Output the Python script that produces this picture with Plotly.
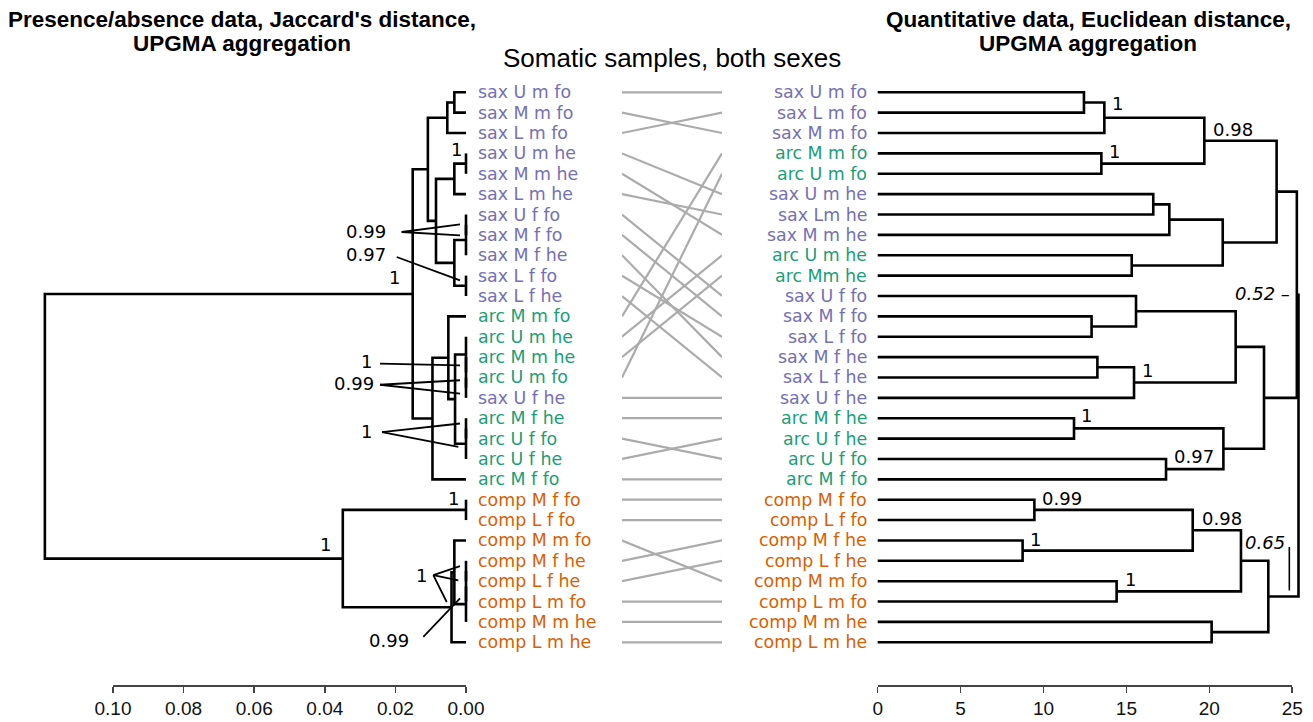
import plotly.graph_objects as go

# ---------------- data ----------------
LEFT_LABELS = ["sax U m fo", "sax M m fo", "sax L m fo", "sax U m he", "sax M m he", "sax L m he",
               "sax U f fo", "sax M f fo", "sax M f he", "sax L f fo", "sax L f he",
               "arc M m fo", "arc U m he", "arc M m he", "arc U m fo", "sax U f he",
               "arc M f he", "arc U f fo", "arc U f he", "arc M f fo",
               "comp M f fo", "comp L f fo", "comp M m fo", "comp M f he", "comp L f he",
               "comp L m fo", "comp M m he", "comp L m he"]
RIGHT_LABELS = ["sax U m fo", "sax L m fo", "sax M m fo", "arc M m fo", "arc U m fo",
                "sax U m he", "sax Lm he", "sax M m he", "arc U m he", "arc Mm he",
                "sax U f fo", "sax M f fo", "sax L f fo", "sax M f he", "sax L f he", "sax U f he",
                "arc M f he", "arc U f he", "arc U f fo", "arc M f fo",
                "comp M f fo", "comp L f fo", "comp M f he", "comp L f he", "comp M m fo",
                "comp L m fo", "comp M m he", "comp L m he"]

# merges (child a, child b, height); leaves are 0..27, merge k gets id 28+k
LEFT_MERGES = [(0, 1, 0.0033), (28, 2, 0.0053), (3, 4, 0.0), (30, 5, 0.0033),
               (6, 7, 0.0), (32, 8, 0.0), (9, 10, 0.0), (33, 34, 0.0033),
               (31, 35, 0.0085), (29, 36, 0.0108),
               (14, 15, 0.0), (13, 38, 0.0), (12, 39, 0.0), (16, 17, 0.0), (41, 18, 0.0),
               (40, 42, 0.0031), (11, 43, 0.0050), (44, 19, 0.0095), (37, 45, 0.0151),
               (20, 21, 0.0), (23, 24, 0.0), (48, 25, 0.0), (49, 26, 0.0),
               (22, 50, 0.0033), (51, 27, 0.0041), (47, 52, 0.0349), (46, 53, 0.1193)]
RIGHT_MERGES = [(0, 1, 12.44), (28, 2, 13.67), (3, 4, 13.49), (29, 30, 19.70),
                (5, 6, 16.62), (32, 7, 17.59), (8, 9, 15.32), (33, 34, 20.81), (31, 35, 24.06),
                (11, 12, 12.90), (10, 37, 15.58), (13, 14, 13.25), (39, 15, 15.46), (38, 40, 21.59),
                (16, 17, 11.84), (18, 19, 17.39), (42, 43, 20.85), (41, 44, 23.30), (36, 45, 25.28),
                (20, 21, 9.45), (22, 23, 8.74), (47, 48, 19.00), (24, 25, 14.41), (49, 50, 21.91),
                (26, 27, 20.14), (51, 52, 23.56), (46, 53, 25.38)]

LEFT_SUPPORT = [(30, "1"), (32, "0.99"), (34, "0.97"), (46, "1"), (39, "1"), (38, "0.99"),
                (41, "1"), (47, "1"), (53, "1"), (48, "1"), (50, "0.99")]
RIGHT_SUPPORT = [(29, "1"), (30, "1"), (31, "0.98"), (40, "1"), (42, "1"), (43, "0.97"),
                 (47, "0.99"), (48, "1"), (49, "0.98"), (50, "1"), (46, "0.52 –"), (53, "0.65")]

LEFT_TICKS = [0.00, 0.02, 0.04, 0.06, 0.08, 0.10]
RIGHT_TICKS = [0, 5, 10, 15, 20, 25]

LEFT_TITLE = ["Presence/absence data, Jaccard's distance,", "UPGMA aggregation"]
RIGHT_TITLE = ["Quantitative data, Euclidean distance,", "UPGMA aggregation"]
MID_TITLE = "Somatic samples, both sexes"

GROUP_COLORS = {"sax": "#7570b3", "arc": "#1b9e77", "comp": "#d95f02"}

# ---------------- layout / style ----------------
W, H = 1313, 722
Y0, ROW = 92.3, 20.37            # px of first leaf, px per leaf
LZ, LS = 466.0, 3530.0           # left: px of 0, px per unit
RZ, RS = 877.7, 16.58            # right: px of 0, px per unit
MX0, MX1 = 622.0, 722.0          # connector columns
AXIS_Y = 685.0
FONT = "Liberation Sans, Arial, Helvetica, sans-serif"
LABEL_FONT = "DejaVu Sans, Verdana, sans-serif"
LABEL_SIZE = 17.4
SUP_SIZE = 18

LEFT_SUP_POS = [("center", -10, -14, None, []),
                ("right", -79.3, 6.3, (-64.3, 7.3), [(32, -6, -0.4), (33, -6, -4.7)]),
                ("right", -79.3, -31.5, (-69.3, -28.8), [(34, -6, -5.5)]),
                ("right", -12, -16.6, None, []),
                ("right", -92.7, -10.4, (-86, -8.8), [(39, -6, -7.1)]),
                ("right", -91, -4.1, (-86, -2.9), [(38, -6, -7.4), (43, 5, -5.6)]),
                ("right", -92.7, 2.8, (-84, 3.8), [(41, -6, -4.9), (42, -7.7, 3.2)]),
                ("center", -12.3, -11.3, None, []),
                ("right", -11, -14.1, None, []),
                ("right", -37.7, 4.2, (-32.7, 4.2), [(48, -6, -4.8), (49, -7.7, -6), (52, -4.8, -5.3)]),
                ("right", -56, 36.8, (-42.7, 32.8), [(50, -6, -5.6)])]
RIGHT_SUP_POS = [("left", 7, -14, False), ("left", 7, -12, False), ("left", 8, -11, False),
                 ("left", 7, -12, False), ("left", 6, -13, False), ("left", 7, -13, False),
                 ("left", 7, -11, False), ("left", 6, -11, False), ("left", 8, -12, False),
                 ("left", 7, -12, False), ("right", -6, -1, True), ("right", 18, -54, True)]


def tree_nodes(merges, n):
    xs = [0.0] * n
    ys = [float(i) for i in range(n)]
    for a, b, h in merges:
        xs.append(h)
        ys.append((ys[a] + ys[b]) / 2)
    return xs, ys


def tree_segments(merges, n):
    xs, ys = tree_nodes(merges, n)
    sx, sy = [], []
    for a, b, h in merges:
        sx += [xs[a], h, h, xs[b], None]
        sy += [ys[a], ys[a], ys[b], ys[b], None]
    return sx, sy


def norm(s):
    return s.replace(" ", "")


def color_of(s):
    return GROUP_COLORS[s.split(" ")[0]]


def py(i):
    return Y0 + i * ROW


def px_left(v):
    return LZ - v * LS


def px_right(v):
    return RZ + v * RS


def X(p):
    return p / W


def Y(p):
    return 1 - p / H


n = len(LEFT_LABELS)
lx, ly = tree_segments(LEFT_MERGES, n)
rx, ry = tree_segments(RIGHT_MERGES, n)
lnx, lny = tree_nodes(LEFT_MERGES, n)
rnx, rny = tree_nodes(RIGHT_MERGES, n)

right_index = {norm(s): j for j, s in enumerate(RIGHT_LABELS)}
cx, cy = [], []
for i, s in enumerate(LEFT_LABELS):
    j = right_index[norm(s)]
    cx += [0, 1, None]
    cy += [i, j, None]

fig = go.Figure()
line_style = dict(color="black", width=2.6)
fig.add_trace(go.Scatter(x=lx, y=ly, mode="lines", line=line_style, xaxis="x", yaxis="y",
                         hoverinfo="skip", showlegend=False))
fig.add_trace(go.Scatter(x=rx, y=ry, mode="lines", line=line_style, xaxis="x2", yaxis="y",
                         hoverinfo="skip", showlegend=False))
fig.add_trace(go.Scatter(x=cx, y=cy, mode="lines", line=dict(color="#ababab", width=2.2),
                         xaxis="x3", yaxis="y", hoverinfo="skip", showlegend=False))
fig.add_trace(go.Scatter(x=[min(LEFT_TICKS), max(LEFT_TICKS)], y=[-100, -100], mode="markers",
                         marker=dict(opacity=0), xaxis="x4", yaxis="y", hoverinfo="skip",
                         showlegend=False))
fig.add_trace(go.Scatter(x=[min(RIGHT_TICKS), max(RIGHT_TICKS)], y=[-100, -100], mode="markers",
                         marker=dict(opacity=0), xaxis="x5", yaxis="y", hoverinfo="skip",
                         showlegend=False))

annotations = []
shapes = []

for i, s in enumerate(LEFT_LABELS):
    annotations.append(dict(x=X(LZ + 11), y=Y(py(i)), xref="paper", yref="paper", text=s,
                            showarrow=False, xanchor="left", yanchor="middle", borderpad=0,
                            font=dict(family=LABEL_FONT, size=LABEL_SIZE, color=color_of(s))))
for j, s in enumerate(RIGHT_LABELS):
    annotations.append(dict(x=X(RZ - 10), y=Y(py(j)), xref="paper", yref="paper", text=s,
                            showarrow=False, xanchor="right", yanchor="middle", borderpad=0,
                            font=dict(family=LABEL_FONT, size=LABEL_SIZE, color=color_of(s))))

for (node, txt), (anc, tdx, tdy, start, targets) in zip(LEFT_SUPPORT, LEFT_SUP_POS):
    nx, ny = px_left(lnx[node]), py(lny[node])
    annotations.append(dict(x=X(nx + tdx), y=Y(ny + tdy), xref="paper", yref="paper", text=txt,
                            showarrow=False, xanchor=anc, yanchor="middle", borderpad=0,
                            font=dict(family=LABEL_FONT, size=SUP_SIZE, color="black")))
    if start is not None:
        sxp, syp = nx + start[0], ny + start[1]
        for tn, dx, dy in targets:
            tx, ty = px_left(lnx[tn]) + dx, py(lny[tn]) + dy
            shapes.append(dict(type="line", xref="paper", yref="paper",
                               x0=X(sxp), y0=Y(syp), x1=X(tx), y1=Y(ty),
                               line=dict(color="black", width=1.8)))

for (node, txt), (anc, dx, dy, ital) in zip(RIGHT_SUPPORT, RIGHT_SUP_POS):
    nx, ny = px_right(rnx[node]), py(rny[node])
    annotations.append(dict(x=X(nx + dx), y=Y(ny + dy), xref="paper", yref="paper",
                            text=("<i>%s</i>" % txt) if ital else txt,
                            showarrow=False, xanchor=anc, yanchor="middle", borderpad=0,
                            font=dict(family=LABEL_FONT, size=SUP_SIZE, color="black")))
bn = RIGHT_SUPPORT[-1][0]
bx, by = px_right(rnx[bn]), py(rny[bn])
shapes.append(dict(type="line", xref="paper", yref="paper", x0=X(bx + 21), x1=X(bx + 21),
                   y0=Y(by - 49.5), y1=Y(by - 6), line=dict(color="black", width=1.6)))

title_font = dict(family=FONT, size=22.5, color="black")
for k, t in enumerate(LEFT_TITLE):
    annotations.append(dict(x=X(242), y=Y(20 + 24 * k), xref="paper", yref="paper",
                            text="<b>%s</b>" % t, showarrow=False, xanchor="center",
                            yanchor="middle", borderpad=0, font=title_font))
for k, t in enumerate(RIGHT_TITLE):
    annotations.append(dict(x=X(1088), y=Y(20 + 24 * k), xref="paper", yref="paper",
                            text="<b>%s</b>" % t, showarrow=False, xanchor="center",
                            yanchor="middle", borderpad=0, font=title_font))
annotations.append(dict(x=X(672), y=Y(58), xref="paper", yref="paper", text=MID_TITLE,
                        showarrow=False, xanchor="center", yanchor="middle", borderpad=0,
                        font=dict(family=FONT, size=26, color="black")))

hidden = dict(visible=False, showgrid=False, zeroline=False, fixedrange=True)
tick_axis = dict(anchor="free", position=Y(AXIS_Y), showline=True, linecolor="#444",
                 linewidth=1.5, ticks="outside", ticklen=6, tickwidth=1.5, tickcolor="#444",
                 showgrid=False, zeroline=False, fixedrange=True,
                 tickfont=dict(family=FONT, size=19, color="#111"))
PAD = 8
fig.update_layout(
    width=W, height=H, autosize=False,
    margin=dict(l=0, r=0, t=0, b=0, pad=0, autoexpand=False),
    paper_bgcolor="white", plot_bgcolor="rgba(0,0,0,0)",
    showlegend=False, hovermode=False,
    xaxis=dict(domain=[0, (LZ + PAD) / W], range=[LZ / LS, -PAD / LS], **hidden),
    xaxis2=dict(domain=[(RZ - PAD) / W, 1], range=[-PAD / RS, (W - RZ) / RS], **hidden),
    xaxis3=dict(domain=[MX0 / W, MX1 / W], range=[0, 1], **hidden),
    xaxis4=dict(domain=[px_left(max(LEFT_TICKS)) / W, px_left(0) / W],
                range=[max(LEFT_TICKS), 0], tickvals=LEFT_TICKS, tickformat=".2f", **tick_axis),
    xaxis5=dict(domain=[px_right(0) / W, px_right(max(RIGHT_TICKS)) / W],
                range=[0, max(RIGHT_TICKS)], tickvals=RIGHT_TICKS, tickformat="d", **tick_axis),
    yaxis=dict(domain=[0, 1], range=[(H - Y0) / ROW, -Y0 / ROW], **hidden),
    annotations=annotations,
    shapes=shapes,
)

fig.write_html("out.html", config={"displayModeBar": False, "staticPlot": True,
                                   "responsive": False})
